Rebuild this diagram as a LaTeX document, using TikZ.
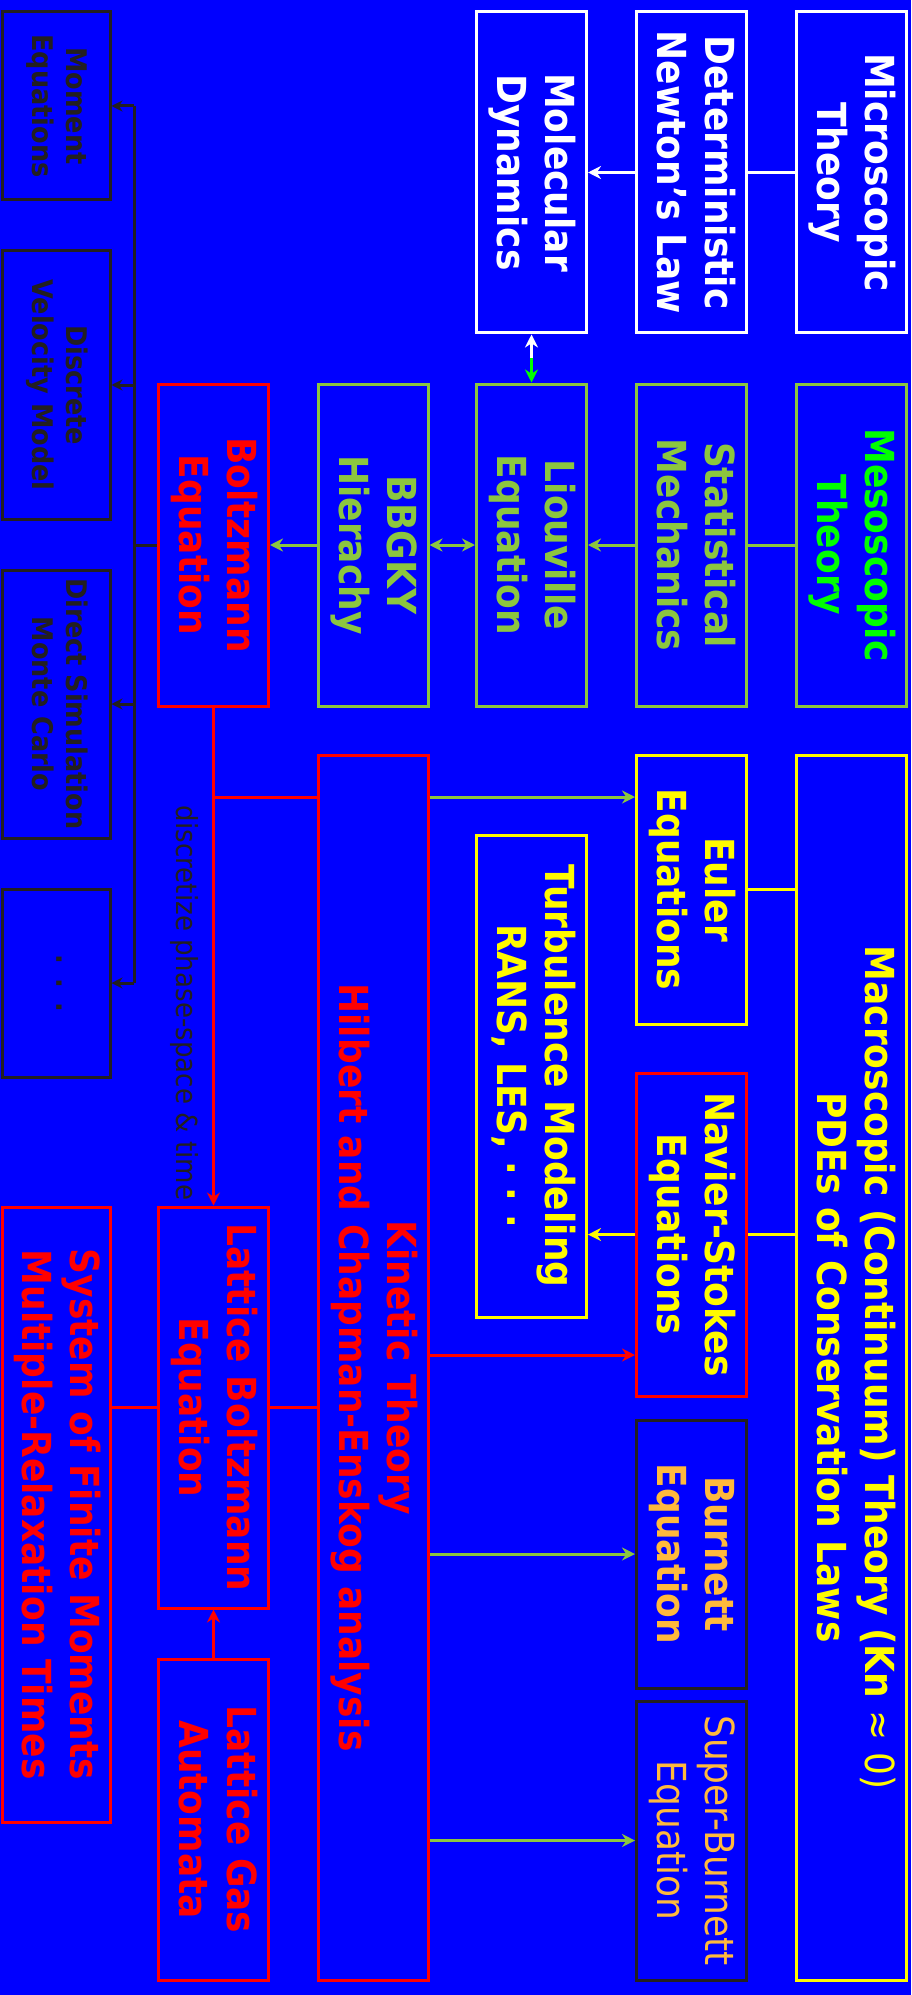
\documentclass[tikz,border=0pt]{standalone}
\usepackage{fontspec}
\setmainfont{DejaVu Sans}[FakeStretch=0.9]
\usepackage{tikz}
\usetikzlibrary{arrows.meta, calc}
\definecolor{bgblue}{RGB}{0,0,255}
\definecolor{olivegreen}{RGB}{140,198,63}
\definecolor{mesogreen}{RGB}{0,255,0}
\definecolor{macroyellow}{RGB}{255,250,0}
\definecolor{burnorange}{RGB}{255,185,60}
\definecolor{darkline}{RGB}{35,31,32}
\newcommand{\vtext}[1]{\rotatebox{-90}{\begin{tabular}{@{}c@{}}#1\end{tabular}}}

\begin{document}
\begin{tikzpicture}[x=0.5pt, y=-0.5pt,
    box/.style={rectangle, draw, line width=1.5pt, fill=bgblue,
                inner sep=0pt, minimum width=55pt,
                font=\fontsize{20}{24}\selectfont\bfseries},
    small/.style={box, minimum width=54pt,
                  font=\fontsize{14.2}{17}\selectfont\bfseries},
    span/.style={minimum height=#1*0.5pt},
    wbox/.style={box, draw=white, text=white},
    obox/.style={box, draw=olivegreen, text=olivegreen},
    rbox/.style={box, draw=red, text=red},
    ybox/.style={box, draw=macroyellow, text=macroyellow},
    dbox/.style={small, draw=darkline, text=darkline},
    lbl/.style={text=darkline, inner sep=0pt,
                font=\fontsize{14.5}{17}\selectfont},
    tip/.style={-{Stealth[length=6.5pt, width=6.5pt]}},
    wire/.style={line width=1.5pt}
]
    \fill[bgblue] (0,0) rectangle (911,1995);
    \useasboundingbox (0,0) rectangle (911,1995);

    % microscopic row
    \node[wbox, span=321] (micro) at (851,172.5) {\vtext{Microscopic\\Theory}};
    \node[wbox, span=321] (det) at (691.5,172.5) {\vtext{Deterministic\\Newton’s Law}};
    \node[wbox, span=321] (md) at (531.5,172.5) {\vtext{Molecular\\Dynamics}};

    % mesoscopic row
    \node[obox, span=322, text=mesogreen] (meso) at (851,545) {\vtext{Mesoscopic\\Theory}};
    \node[obox, span=322] (stat) at (691.5,545) {\vtext{Statistical\\Mechanics}};
    \node[obox, span=322] (liou) at (531.5,545) {\vtext{Liouville\\Equation}};
    \node[obox, span=322] (bbgky) at (373,545) {\vtext{BBGKY\\Hierachy}};
    \node[rbox, span=322] (boltz) at (213.5,545) {\vtext{Boltzmann\\Equation}};

    % macroscopic part
    \node[ybox, span=1225] (macro) at (851,1367.5)
        {\vtext{Macroscopic (Continuum) Theory (Kn {\mdseries≈ 0)}\\PDEs of Conservation Laws}};
    \node[ybox, span=269] (eul) at (691.5,889.5) {\vtext{Euler\\Equations}};
    \node[ybox, span=482] (turb) at (531.5,1076) {\vtext{Turbulence Modeling\\RANS, LES, ·\ ·\ ·}};
    \node[ybox, span=323, draw=red] (ns) at (691.5,1234.5) {\vtext{Navier-Stokes\\Equations}};
    \node[box, span=268, draw=darkline, text=burnorange] (burn) at (691.5,1554) {\vtext{Burnett\\Equation}};
    \node[box, span=279, draw=darkline, text=burnorange, font=\fontsize{20}{24}\selectfont] (sb)
        at (691.5,1840.5) {\vtext{Super-Burnett\\Equation}};

    % kinetic part
    \node[rbox, span=1225] (kin) at (373,1367.5) {\vtext{Kinetic Theory\\Hilbert and Chapman-Enskog analysis}};
    \node[rbox, span=401] (lb) at (213.5,1407.5) {\vtext{Lattice Boltzmann\\Equation}};
    \node[rbox, span=321] (lg) at (213.5,1819.5) {\vtext{Lattice Gas\\Automata}};
    \node[rbox, span=615, minimum width=54pt] (sys) at (56,1514.5)
        {\vtext{System of Finite Moments\\Multiple-Relaxation Times}};

    % numerical methods
    \node[dbox, span=188] (moment) at (56,106) {\vtext{Moment\\Equations}};
    \node[dbox, span=268] (dvm) at (56,385) {\vtext{Discrete\\Velocity Model}};
    \node[dbox, span=268] (dsmc) at (56,704) {\vtext{Direct Simulation\\Monte Carlo}};
    \node[dbox, span=188] (dots) at (56,983) {\vtext{·\hspace{0.5em}·\hspace{0.5em}·}};

    \node[lbl] (disc) at (184,1003) {\rotatebox{-90}{discretize phase-space \& time}};

    % connectors
    \draw[wire, white] (micro) -- (det);
    \draw[wire, white, tip] (det) -- (md);
    \coordinate (mdmid) at ($(md.south)!0.5!(liou.north)$);
    \draw[wire, white, tip] (mdmid) -- (md);
    \draw[wire, mesogreen, tip] (mdmid) -- (liou);

    \draw[wire, olivegreen] (meso) -- (stat);
    \draw[wire, olivegreen, tip] (stat) -- (liou);
    \draw[wire, olivegreen, {Stealth[length=6.5pt, width=6.5pt]}-{Stealth[length=6.5pt, width=6.5pt]}] (liou) -- (bbgky);
    \draw[wire, olivegreen, tip] (bbgky) -- (boltz);

    \coordinate (busmid) at (134,545);
    \draw[wire, darkline] (boltz) -- (busmid);
    \draw[wire, darkline] (moment.east -| busmid) -- (dots.east -| busmid);
    \foreach \t in {moment, dvm, dsmc, dots}
        \draw[wire, darkline, -{Stealth[length=5.5pt, width=5.5pt]}] (\t.east -| busmid) -- (\t.east);

    \draw[wire, red, tip] (boltz) -- (lb);
    \coordinate (keul) at (0,797);
    \draw[wire, red] (boltz.south |- keul) -- (kin.west |- keul);
    \draw[wire, olivegreen, tip] (kin.east |- keul) -- (eul.west |- keul);
    \coordinate (kns) at (0,1355);
    \draw[wire, red, tip] (kin.east |- kns) -- (ns.west |- kns);
    \draw[wire, olivegreen, tip] (kin.east |- burn.west) -- (burn.west);
    \draw[wire, olivegreen, tip] (kin.east |- sb.west) -- (sb.west);
    \draw[wire, red] (lb.east) -- (kin.west |- lb.east);
    \draw[wire, red] (sys.east |- lb.west) -- (lb.west);
    \draw[wire, red, tip] (lg) -- (lb);

    \draw[wire, macroyellow] (macro.west |- eul.east) -- (eul.east);
    \draw[wire, macroyellow] (macro.west |- ns.east) -- (ns.east);
    \draw[wire, macroyellow, tip] (ns.west) -- (turb.east |- ns.west);
\end{tikzpicture}
\end{document}
